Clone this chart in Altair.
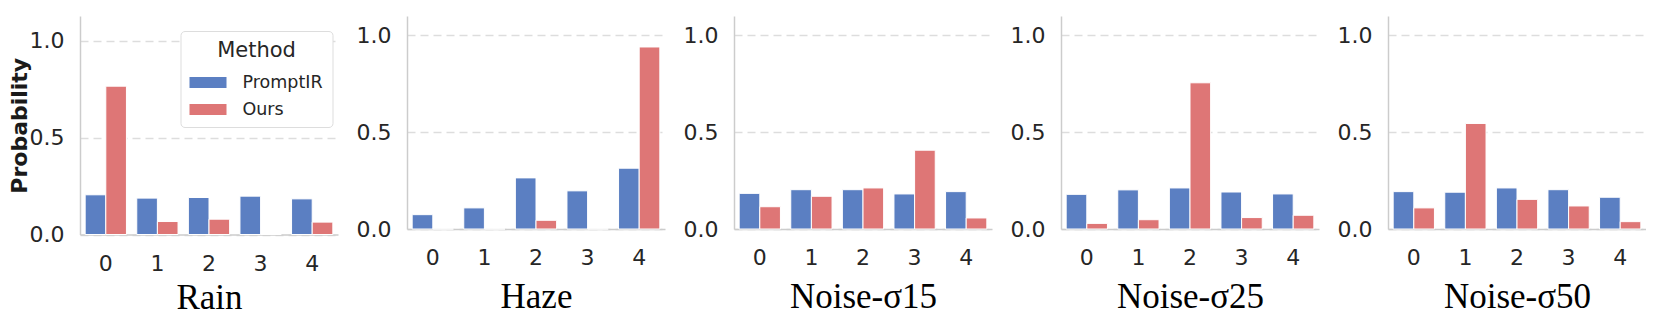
import altair as alt
import pandas as pd

panels = ["Rain", "Haze", "Noise-σ15", "Noise-σ25", "Noise-σ50"]
methods = ["PromptIR", "Ours"]
indices = [0, 1, 2, 3, 4]

promptir = {
    "Rain":      [0.205, 0.188, 0.191, 0.198, 0.184],
    "Haze":      [0.074, 0.109, 0.264, 0.197, 0.314],
    "Noise-σ15": [0.184, 0.203, 0.203, 0.181, 0.193],
    "Noise-σ25": [0.179, 0.202, 0.212, 0.191, 0.181],
    "Noise-σ50": [0.193, 0.190, 0.212, 0.203, 0.164],
}
ours = {
    "Rain":      [0.766, 0.067, 0.079, 0.000, 0.064],
    "Haze":      [0.000, 0.000, 0.045, 0.000, 0.940],
    "Noise-σ15": [0.115, 0.169, 0.212, 0.407, 0.057],
    "Noise-σ25": [0.029, 0.048, 0.755, 0.059, 0.071],
    "Noise-σ50": [0.109, 0.545, 0.153, 0.119, 0.038],
}
colors = ["#5b7fc2", "#de7676"]

rows = []
for p in panels:
    for i in indices:
        rows.append({"panel": p, "idx": i, "Method": "PromptIR", "value": promptir[p][i]})
        rows.append({"panel": p, "idx": i, "Method": "Ours", "value": ours[p][i]})
df = pd.DataFrame(rows)

GRAY = "#cccccc"
TXT = "#262626"


def panel(name, first):
    yaxis = alt.Axis(
        values=[0.0, 0.5, 1.0], format=".1f", grid=True,
        title="Probability" if first else None,
        titleFont="DejaVu Sans", titleFontWeight="bold", titleFontSize=22,
        titleColor="#1a1a1a", titlePadding=-2,
    )
    xaxis = alt.Axis(
        title=name, labelAngle=0, grid=False,
        titleFont="Liberation Serif", titleFontSize=35, titleFontWeight="normal",
        titleColor="black", titlePadding=6 if first else 11,
    )
    # first panel sits slightly lower in the reference: taller view, same px/unit
    h = 218.5 if first else 213
    ymax = 1.1284 if first else 1.1
    return alt.Chart(df).transform_filter(alt.datum.panel == name).mark_bar(
        stroke="white", strokeWidth=1
    ).encode(
        x=alt.X("idx:O", axis=xaxis, scale=alt.Scale(paddingInner=0.2, paddingOuter=0.1)),
        xOffset=alt.XOffset("Method:N", scale=alt.Scale(domain=methods)),
        y=alt.Y("value:Q", axis=yaxis, scale=alt.Scale(domain=[0, ymax], nice=False)),
        color=alt.Color("Method:N", scale=alt.Scale(domain=methods, range=colors),
                        legend=alt.Legend(title="Method")),
    ).properties(width=258, height=h)


chart = alt.hconcat(
    *[panel(p, i == 0) for i, p in enumerate(panels)], spacing=18
).properties(
    padding={"left": 0, "top": 8, "right": 0, "bottom": 0}
).configure_view(
    stroke=None
).configure_axis(
    domainColor=GRAY, domainWidth=1.5, ticks=False,
    labelFont="DejaVu Sans", labelFontSize=22, labelColor=TXT,
    gridColor="#dddddd", gridDash=[8, 5], gridWidth=1.5,
).configure_axisX(
    labelPadding=18.6,
).configure_axisY(
    labelPadding=16,
).configure_legend(
    orient="none", legendX=100.5, legendY=15,
    titleFont="DejaVu Sans", titleFontSize=21, titleFontWeight="normal",
    titleColor=TXT, titleAnchor="middle", titlePadding=3,
    labelFont="DejaVu Sans", labelFontSize=17.5, labelColor=TXT, labelOffset=16,
    symbolType="M-1,-0.3H1V0.3H-1Z", symbolSize=1369, symbolStrokeWidth=0,
    symbolOpacity=1, rowPadding=-1.5,
    fillColor="white", strokeColor="#dddddd", cornerRadius=4, padding=9,
)

chart.save("out.html", embed_options={"renderer": "svg", "actions": False})
